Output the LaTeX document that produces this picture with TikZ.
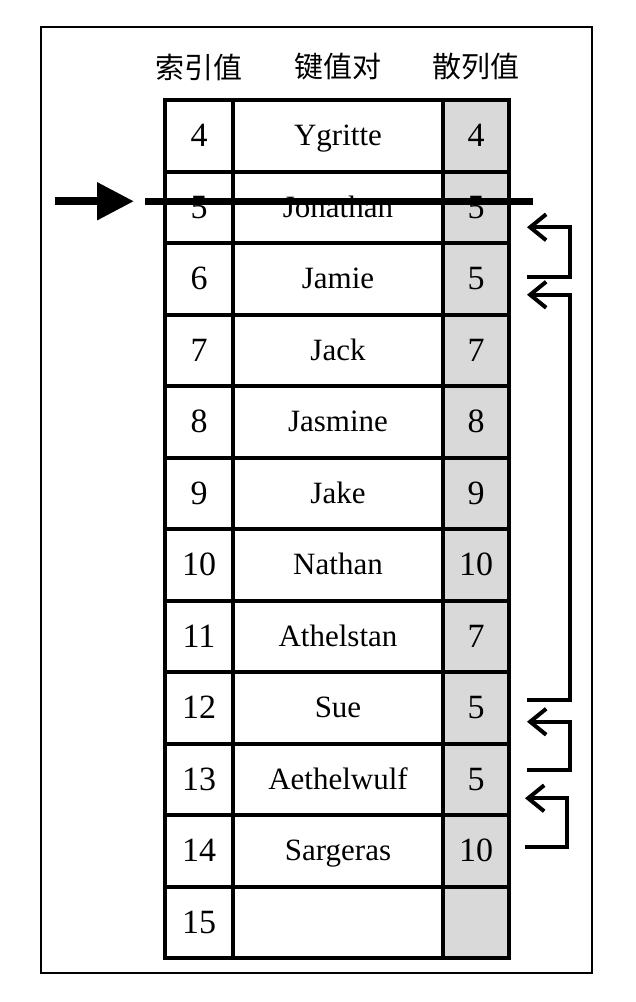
\documentclass[tikz,border=0pt]{standalone}
\usepackage{fontspec}
\setmainfont{Liberation Serif}
\newfontfamily\cjk{Noto Sans CJK SC}
\usetikzlibrary{calc,arrows.meta}
\definecolor{hashgray}{HTML}{D9D9D9}
\definecolor{gridblack}{HTML}{000000}

\tikzset{
  cell/.style={draw=gridblack, line width=4pt, inner sep=0pt,
    minimum height=71.5pt, text height=20pt, text depth=0pt,
    font=\fontsize{31}{31}\selectfont},
  idxcell/.style={cell, minimum width=68pt, text height=22pt,
    font=\fontsize{34}{34}\selectfont},
  keycell/.style={cell, minimum width=210pt},
  hashcell/.style={cell, fill=hashgray, minimum width=66pt, text height=22pt,
    font=\fontsize{34}{34}\selectfont},
  headtext/.style={font=\cjk\fontsize{29}{29}\selectfont, inner sep=0pt},
  hop/.style={draw=black, line width=4pt, -{Straight Barb[length=16pt, width=26pt]}}
}

\begin{document}
\begin{tikzpicture}[x=1pt, y=-1pt]

  % Canvas and outer frame
  \useasboundingbox (0,0) rectangle (636,1002);
  \draw[line width=2pt] (41,27) rectangle (592,973);

  % Column headers
  \node[headtext] (headIdx) at (199,67) {索引值};
  \node[headtext] (headKey) at (338,67) {键值对};
  \node[headtext] (headHash) at (476,67) {散列值};

  % Table rows: index / key / hash
  \foreach \i/\name/\h [count=\r from 0] in {4/Ygritte/4, 5/Jonathan/5, 6/Jamie/5,
      7/Jack/7, 8/Jasmine/8, 9/Jake/9, 10/Nathan/10, 11/Athelstan/7, 12/Sue/5,
      13/Aethelwulf/5, 14/Sargeras/10, 15//} {
    \node[idxcell] (idx\i) at (199, 135.75+71.5*\r) {\i};
    \node[keycell] (key\i) at (338, 135.75+71.5*\r) {\name};
    \node[hashcell] (hash\i) at (476, 135.75+71.5*\r) {\h};
  }

  % Deleted entry struck out, with pointer
  \coordinate (cutL) at ([xshift=-18pt, yshift=6pt]idx5.west);
  \coordinate (cutR) at ([xshift=22pt, yshift=6pt]hash5.east);
  \coordinate (ptr) at ([xshift=-90pt]cutL);
  \draw[line width=7pt] (cutL) -- (cutR);
  \draw[line width=8pt, -{Triangle[length=37pt, width=36pt]}] (ptr) -- ([xshift=-11pt]cutL);

  % Probe chain arrows
  \draw[hop] ([xshift=16pt, yshift=2pt]hash6.east) -- ++(43,0)
    |- ([xshift=16pt, yshift=-20pt]hash5.east);
  \draw[hop] ([xshift=16pt, yshift=8pt]hash12.east) -- ++(43,0)
    |- ([xshift=16pt, yshift=-16pt]hash6.east);
  \draw[hop] ([xshift=16pt, yshift=9pt]hash13.east) -- ++(43,0)
    |- ([xshift=16pt, yshift=-14pt]hash12.east);
  \draw[hop] ([xshift=14pt, yshift=4pt]hash14.east) -- ++(42,0)
    |- ([xshift=14pt, yshift=-19pt]hash13.east);

\end{tikzpicture}
\end{document}
